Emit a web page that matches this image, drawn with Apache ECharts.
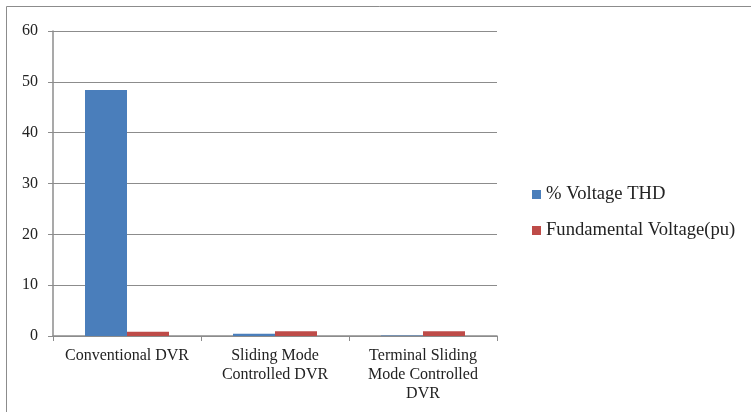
<!DOCTYPE html>
<html>
<head>
<meta charset="utf-8">
<script src="https://cdn.jsdelivr.net/npm/echarts@6/dist/echarts.min.js"></script>
<style>
html,body{margin:0;padding:0;background:#fff;}
#chart{width:751px;height:412px;}
</style>
</head>
<body>
<div id="chart"></div>
<script>
const categories = ['Conventional DVR', 'Sliding Mode\nControlled DVR', 'Terminal Sliding\nMode Controlled\nDVR'];
const thdValues = [48.4, 0.45, 0.12];
const fundamentalValues = [0.82, 0.95, 0.95];
const seriesNames = ['% Voltage THD', 'Fundamental Voltage(pu)'];

const chart = echarts.init(document.getElementById('chart'));
const font = 'Liberation Serif, Times New Roman, serif';
chart.setOption({
  animation: false,
  textStyle: { fontFamily: font },
  graphic: [{
    type: 'rect',
    shape: { x: 6.5, y: 6.5, width: 760, height: 420 },
    style: { fill: 'none', stroke: '#8c8c8c', lineWidth: 1 }
  }],
  grid: { left: 53, top: 31, width: 444, height: 305 },
  legend: {
    orient: 'vertical',
    left: 527, top: 180,
    itemWidth: 9, itemHeight: 9, itemGap: 17,
    icon: 'rect',
    textStyle: { fontFamily: font, fontSize: 18.6, color: '#222' },
    data: seriesNames
  },
  xAxis: {
    type: 'category',
    data: categories,
    axisLine: { lineStyle: { color: '#8c8c8c', width: 1.5 } },
    axisTick: { show: true, length: 5, lineStyle: { color: '#8c8c8c' } },
    axisLabel: {
      fontFamily: font, fontSize: 16, color: '#222', margin: 10, lineHeight: 19,
      interval: 0, hideOverlap: false
    }
  },
  yAxis: {
    type: 'value', min: 0, max: 60, interval: 10,
    axisLine: { show: true, lineStyle: { color: '#8c8c8c', width: 1.5 } },
    axisTick: { show: true, length: 5, lineStyle: { color: '#8c8c8c' } },
    splitLine: { lineStyle: { color: '#8c8c8c', width: 1.2 } },
    axisLabel: { fontFamily: font, fontSize: 16, color: '#222', margin: 15 }
  },
  series: [
    {
      name: seriesNames[0], type: 'bar', data: thdValues,
      barWidth: 42, barGap: '0%',
      itemStyle: { color: '#4a7ebb' }
    },
    {
      name: seriesNames[1], type: 'bar', data: fundamentalValues,
      barWidth: 42,
      itemStyle: { color: '#be4b48' }
    }
  ]
});
</script>
</body>
</html>
